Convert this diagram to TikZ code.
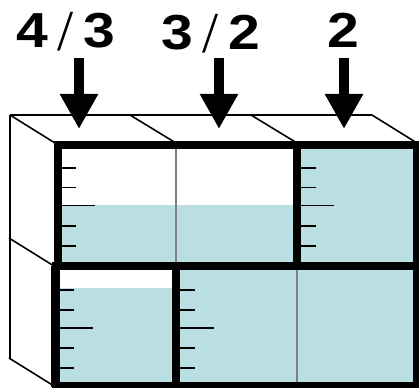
\documentclass[tikz,border=0pt]{standalone}
\usepackage{fontspec}
\setmainfont{Liberation Sans}
\newfontfamily\slashfont{Liberation Serif}
\usetikzlibrary{arrows.meta}
\definecolor{water}{RGB}{186,223,227}
\tikzset{
  wall/.style={line width=4.7pt},
  divider/.style={line width=1.3pt,draw=gray},
  edge/.style={line width=0.9pt},
  tick/.style={line width=1.1pt},
  drop/.style={line width=6.2pt,-{Triangle[length=20pt,width=20.5pt]}},
  price/.style={inner sep=0pt,font=\fontsize{28}{28}\selectfont\bfseries}
}
\newcommand{\wide}[1]{\scalebox{1.16}[1]{#1}}
\newcommand{\thinslash}{\hspace{5.5pt}\raisebox{-2pt}{\fontsize{33}{33}\slashfont\mdseries\selectfont/}\hspace{5.5pt}}

\begin{document}
\begin{tikzpicture}[x=0.02cm,y=-0.02cm]
    \useasboundingbox (0,0) rectangle (419,387);

    % water
    \fill[water] (58,205) rectangle (297,266);
    \fill[water] (297,145) rectangle (417,266);
    \fill[water] (55,288) rectangle (176,386);
    \fill[water] (176,266) rectangle (417,386);

    % back edges
    \draw[edge] (10,115) -- (372,115);
    \draw[edge] (10,115) -- (10,358);
    \draw[edge] (10,115) -- (55,143);
    \draw[edge] (130,115) -- (176,143);
    \draw[edge] (251,115) -- (297,143);
    \draw[edge] (372,115) -- (417,143);
    \draw[edge] (9,238) -- (54,266);
    \draw[edge] (9,358) -- (54,386);

    % ticks
    \draw[tick] (60,168) -- (76,168);
    \draw[tick] (60,187.5) -- (76,187.5);
    \draw[tick] (60,205.5) -- (95,205.5);
    \draw[tick] (60,226) -- (76,226);
    \draw[tick] (60,246) -- (76,246);

    \draw[tick] (299,168) -- (316,168);
    \draw[tick] (299,187.5) -- (316,187.5);
    \draw[tick] (299,205.5) -- (334,205.5);
    \draw[tick] (299,226) -- (316,226);
    \draw[tick] (299,246) -- (316,246);

    \draw[tick] (57,290) -- (74,290);
    \draw[tick] (57,310) -- (74,310);
    \draw[tick] (57,328) -- (93,328);
    \draw[tick] (57,348) -- (74,348);
    \draw[tick] (57,368) -- (74,368);

    \draw[tick] (178,290) -- (195,290);
    \draw[tick] (178,310) -- (195,310);
    \draw[tick] (178,328) -- (214,328);
    \draw[tick] (178,348) -- (195,348);
    \draw[tick] (178,368) -- (195,368);

    % box walls
    \draw[divider] (176,145) -- (176,266);
    \draw[divider,line width=1.7pt] (297,266) -- (297,387);
    \draw[wall] (54,145) -- (419,145);
    \draw[wall] (52,266) -- (419,266);
    \draw[wall] (52,386) -- (419,386);
    \draw[wall] (58,145) -- (58,266);
    \draw[wall] (55.5,266) -- (55.5,387);
    \draw[wall] (297,145) -- (297,266);
    \draw[wall] (176,266) -- (176,387);
    \draw[wall] (417,145) -- (417,387);

    % prices
    \node[price] (pa) at (65.5,32) {\wide{4}\thinslash\wide{3}};
    \node[price] (pb) at (211,34) {\wide{3}\thinslash\wide{2}};
    \node[price] (pc) at (343,30.5) {\wide{2}};

    \coordinate (sa) at (79,58);
    \coordinate (sb) at (219,58);
    \coordinate (sc) at (344,58);
    \coordinate (ta) at (79,129);
    \coordinate (tb) at (219,129);
    \coordinate (tc) at (344,129);

    \draw[drop] (sa) -- (ta);
    \draw[drop] (sb) -- (tb);
    \draw[drop] (sc) -- (tc);

\end{tikzpicture}
\end{document}
